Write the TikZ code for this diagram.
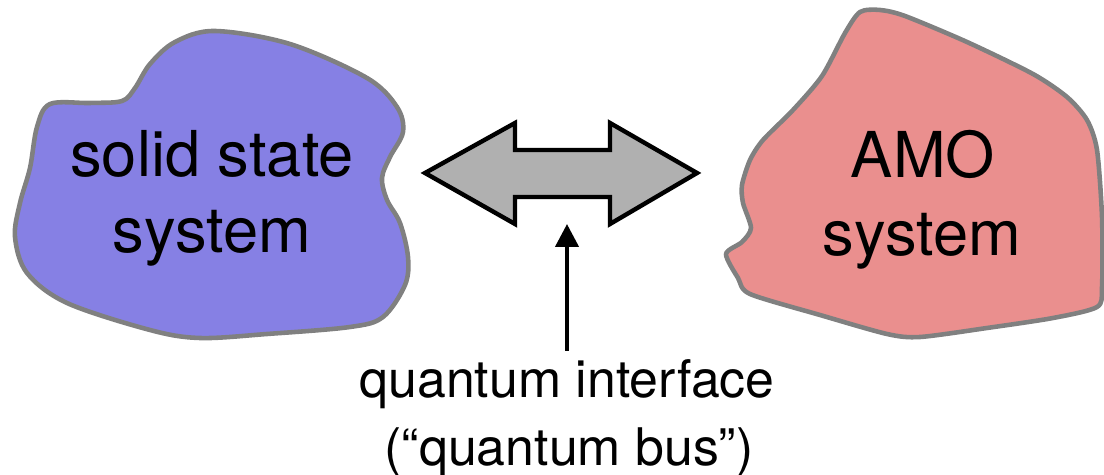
\documentclass[tikz,border=0pt]{standalone}
\usepackage{fontspec}
\setmainfont{TeX Gyre Heros}
\usetikzlibrary{arrows.meta}
\definecolor{blobblue}{RGB}{134,128,228}
\definecolor{blobred}{RGB}{234,143,142}
\definecolor{blobedge}{RGB}{128,128,128}
\definecolor{busgray}{RGB}{176,176,176}
\tikzset{
  blob/.style={draw=blobedge, line width=2.6pt, line join=round},
  bigtext/.style={inner sep=0pt, anchor=base, font=\fontsize{36}{43}\selectfont},
  smalltext/.style={inner sep=0pt, anchor=base, font=\fontsize{29.5}{36}\selectfont},
  busarrow/.style={draw=black, fill=busgray, line width=2.5pt, line join=miter},
  pointer/.style={draw=black, line width=2.4pt, -{Triangle[length=13pt,width=13pt]}}
}
\begin{document}
\begin{tikzpicture}[x=0.02cm, y=-0.02cm]
\useasboundingbox (0,0) rectangle (1104,475);
% left blob
\path[blob, fill=blobblue] plot[smooth cycle, tension=0.55] coordinates {
 (50,104) (90,103) (122,101) (135,88) (150,64) (175,42) (215,31) (290,44) (367,78)
 (397,107) (403,132) (390,157) (382,178) (387,200) (400,223) (408,257) (405,285)
 (383,317) (350,327) (267,334) (200,338) (150,330) (67,303) (27,273) (15,237)
 (20,203) (30,168) (37,127)};
% right blob
\path[blob, fill=blobred] plot[smooth cycle, tension=0.45] coordinates {
 (860,12) (880,10) (905,16) (967,42) (1033,74) (1067,97) (1087,120) (1097,150)
 (1102,217) (1102,287) (1097,307) (1053,318) (987,328) (920,337) (887,334)
 (820,315) (750,294) (738,278) (726,254) (742,242) (751,228) (743,203) (742,185)
 (750,160) (763,140) (793,110) (822,76) (845,33)};
% quantum bus double arrow
\path[busarrow] (425,173) -- (515,123) -- (515,150) -- (610,150) -- (610,123)
 -- (697,173) -- (610,224) -- (610,197) -- (515,197) -- (515,224) -- cycle;
% labels
\node[bigtext] (ss1) at (212,177) {solid state};
\node[bigtext] (ss2) at (212,253) {system};
\node[bigtext] (amo1) at (923,178) {AMO};
\node[bigtext] (amo2) at (922,256) {system};
\node[smalltext] (qi1) at (567,398) {quantum interface};
\node[smalltext] (qi2) at (569,465) {(“quantum bus”)};
% pointer
\coordinate (tail) at (567,351);
\coordinate (tip) at (567,224);
\draw[pointer] (tail) -- (tip);
\end{tikzpicture}
\end{document}
